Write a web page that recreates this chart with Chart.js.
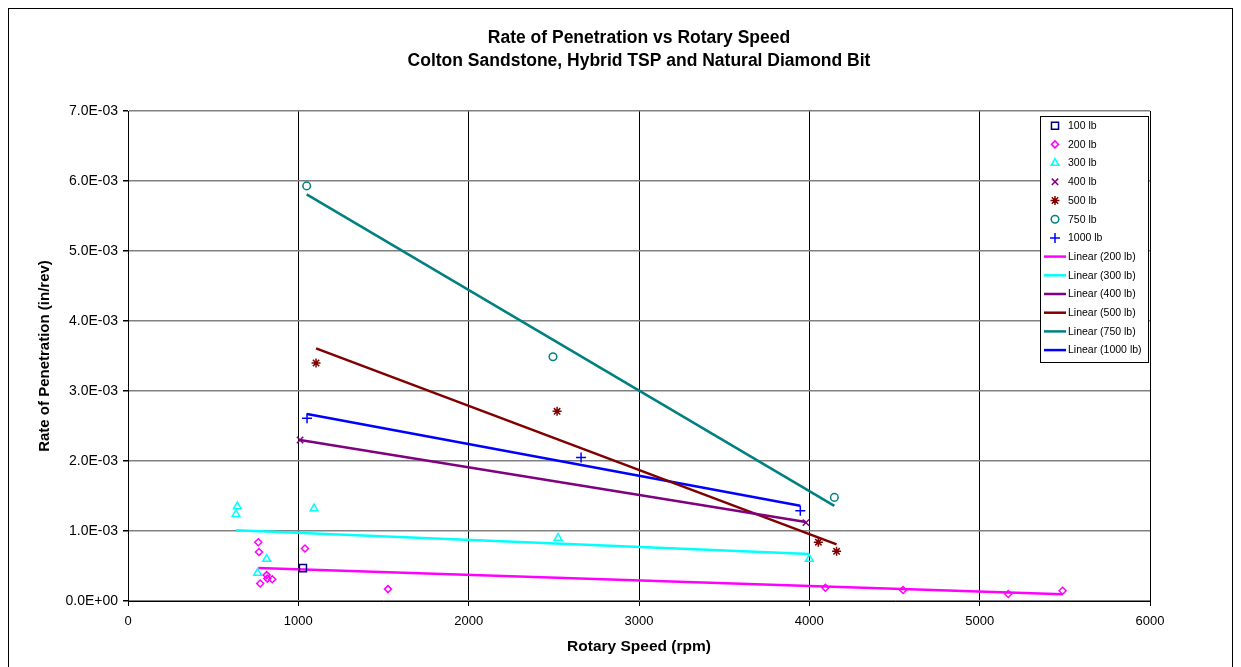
<!DOCTYPE html>
<html>
<head>
<meta charset="utf-8">
<script src="https://cdn.jsdelivr.net/npm/chart.js@4/dist/chart.umd.min.js"></script>
<style>
    body { margin: 0; background: #fff; }
    canvas { display: block; }
</style>
</head>
<body>
<canvas id="graph_1" width="1241" height="667"></canvas>
<script>
// points : vitesse (rpm) et pénétration (in/rev)
const rpm100 = [1027];
const rop100 = [0.00047];
const rpm200 = [765, 769, 814, 818, 847, 776, 1039, 1526, 4094, 4550, 5168, 5487];
const rop200 = [0.00084, 0.00070, 0.00037, 0.00032, 0.00031, 0.00025, 0.00075, 0.00017, 0.00019, 0.000157, 0.00010, 0.000147];
const rpm300 = [642, 634, 814, 761, 1092, 2525, 4000];
const rop300 = [0.00135, 0.00124, 0.00060, 0.00040, 0.00132, 0.00090, 0.00060];
const rpm400 = [1010, 3980];
const rop400 = [0.0023, 0.00112];
const rpm500 = [1104, 2519, 4053, 4160];
const rop500 = [0.0034, 0.00271, 0.00084, 0.00071];
const rpm750 = [1049, 2495, 4147];
const rop750 = [0.00593, 0.00349, 0.00148];
const rpm1000 = [1051, 2660, 3947];
const rop1000 = [0.00261, 0.00205, 0.00129];

// extrémités des courbes de tendance (Excel "Linear")
const trendRpm200 = [765, 5487];
const trendRop200 = [0.00047, 0.000095];
const trendRpm300 = [634, 4000];
const trendRop300 = [0.00101, 0.00067];
const trendRpm400 = [1010, 3980];
const trendRop400 = [0.0023, 0.00113];
const trendRpm500 = [1104, 4160];
const trendRop500 = [0.00361, 0.00081];
const trendRpm750 = [1049, 4147];
const trendRop750 = [0.00581, 0.00136];
const trendRpm1000 = [1051, 3947];
const trendRop1000 = [0.00267, 0.00136];

const titleLines = ['Rate of Penetration vs Rotary Speed', 'Colton Sandstone, Hybrid TSP and Natural Diamond Bit'];
const xTitle = 'Rotary Speed (rpm)';
const yTitle = 'Rate of Penetration (in/rev)';

const toPoints = (xs, ys) => xs.map((x, i) => ({ x: x, y: ys[i] }));

const markerSet = (label, xs, ys, style, color, radius) => ({
    label,
    data: toPoints(xs, ys),
    pointStyle: style,
    pointRadius: radius,
    pointHoverRadius: radius,
    pointBorderWidth: 1.5,
    borderColor: color,
    backgroundColor: 'rgba(0,0,0,0)',
    showLine: false
});

const trendSet = (label, xs, ys, color) => ({
    label,
    data: toPoints(xs, ys),
    showLine: true,
    borderColor: color,
    backgroundColor: color,
    borderWidth: 2.5,
    pointRadius: 0,
    pointStyle: 'line'
});

const datasets = [
    markerSet('100 lb', rpm100, rop100, 'rect', '#000080', 5),
    markerSet('200 lb', rpm200, rop200, 'rectRot', '#FF00FF', 3.5),
    markerSet('300 lb', rpm300, rop300, 'triangle', '#00FFFF', 4.5),
    markerSet('400 lb', rpm400, rop400, 'crossRot', '#800080', 4.5),
    markerSet('500 lb', rpm500, rop500, 'star', '#800000', 4.5),
    markerSet('750 lb', rpm750, rop750, 'circle', '#008080', 3.8),
    markerSet('1000 lb', rpm1000, rop1000, 'cross', '#0000FF', 5),
    trendSet('Linear (200 lb)', trendRpm200, trendRop200, '#FF00FF'),
    trendSet('Linear (300 lb)', trendRpm300, trendRop300, '#00FFFF'),
    trendSet('Linear (400 lb)', trendRpm400, trendRop400, '#800080'),
    trendSet('Linear (500 lb)', trendRpm500, trendRop500, '#800000'),
    trendSet('Linear (750 lb)', trendRpm750, trendRop750, '#008080'),
    trendSet('Linear (1000 lb)', trendRpm1000, trendRop1000, '#0000FF')
];

// format "7.0E-03"
const toSci = (v) => {
    if (Math.abs(v) < 1e-12) return '0.0E+00';
    const parts = v.toExponential(1).split('e');
    const exp = parseInt(parts[1]);
    return parts[0] + 'E' + (exp < 0 ? '-' : '+') + String(Math.abs(exp)).padStart(2, '0');
};

// cadre extérieur de la figure
const frame = {
    id: 'frame',
    beforeDraw(chart) {
        const ctx = chart.ctx;
        ctx.save();
        ctx.fillStyle = '#fff';
        ctx.fillRect(0, 0, chart.width, chart.height);
        ctx.strokeStyle = '#000';
        ctx.lineWidth = 1;
        ctx.strokeRect(8.5, 8.5, 1224, 700);
        ctx.restore();
    }
};

// légende dans la zone du graphique, comme dans Excel
const boxLegend = {
    id: 'boxLegend',
    afterDraw(chart) {
        const ctx = chart.ctx;
        const left = 1040.5, top = 116.5, w = 108, h = 246;
        const step = 18.7;
        ctx.save();
        ctx.fillStyle = '#fff';
        ctx.fillRect(left, top, w, h);
        ctx.strokeStyle = '#000';
        ctx.lineWidth = 1;
        ctx.strokeRect(left, top, w, h);
        ctx.font = '10.5px "Liberation Sans", Arial, sans-serif';
        ctx.textBaseline = 'middle';
        chart.data.datasets.forEach((ds, i) => {
            const y = 125.7 + i * step;
            if (ds.showLine) {
                ctx.strokeStyle = ds.borderColor;
                ctx.lineWidth = 2.5;
                ctx.beginPath();
                ctx.moveTo(1044, y);
                ctx.lineTo(1066, y);
                ctx.stroke();
            } else {
                // drawPoint prend les couleurs du contexte
                ctx.strokeStyle = ds.borderColor;
                ctx.fillStyle = 'rgba(0,0,0,0)';
                ctx.lineWidth = ds.pointBorderWidth;
                Chart.helpers.drawPoint(ctx, {
                    pointStyle: ds.pointStyle,
                    radius: ds.pointRadius,
                    borderWidth: ds.pointBorderWidth,
                    rotation: 0
                }, 1055, y);
            }
            ctx.fillStyle = '#000';
            ctx.fillText(ds.label, 1068, y + 0.5);
        });
        ctx.restore();
    }
};

Chart.defaults.font.family = '"Liberation Sans", Arial, sans-serif';
Chart.defaults.color = '#000';

const canvas = document.getElementById('graph_1');
const chart = new Chart(canvas, {
    type: 'scatter',
    data: { datasets },
    options: {
        responsive: false,
        animation: false,
        devicePixelRatio: 1,
        layout: { padding: { left: 20, right: 91, top: 10, bottom: 6 } },
        plugins: {
            legend: { display: false },
            tooltip: { enabled: false },
            title: {
                display: true,
                fullSize: false,
                text: titleLines,
                color: '#000',
                font: { size: 17.5, weight: 'bold', lineHeight: '23px' },
                padding: { top: 16.5, bottom: 38.5 }
            }
        },
        scales: {
            x: {
                type: 'linear',
                min: 0,
                max: 6000,
                afterFit: (scale) => { scale.height = 60; },
                ticks: {
                    stepSize: 1000,
                    padding: 8,
                    font: { size: 13 },
                    callback: (v) => String(v)
                },
                grid: { color: '#000', lineWidth: 1, tickLength: 5, tickColor: '#000' },
                border: { color: '#000', width: 1 },
                title: {
                    display: true,
                    text: xTitle,
                    font: { size: 15.5, weight: 'bold' },
                    padding: { top: 0, bottom: 4.7 }
                }
            },
            y: {
                type: 'linear',
                min: 0,
                max: 0.007,
                afterFit: (scale) => { scale.width = 108; },
                ticks: {
                    stepSize: 0.001,
                    padding: 5,
                    font: { size: 14 },
                    callback: (v) => toSci(v)
                },
                grid: { color: '#808080', lineWidth: 1.5, tickLength: 5, tickColor: '#000' },
                border: { color: '#000', width: 1 },
                title: {
                    display: true,
                    text: yTitle,
                    font: { size: 15, weight: 'bold' },
                    padding: { top: 16, bottom: 0 }
                }
            }
        }
    },
    plugins: [frame, boxLegend]
});
</script>
</body>
</html>
